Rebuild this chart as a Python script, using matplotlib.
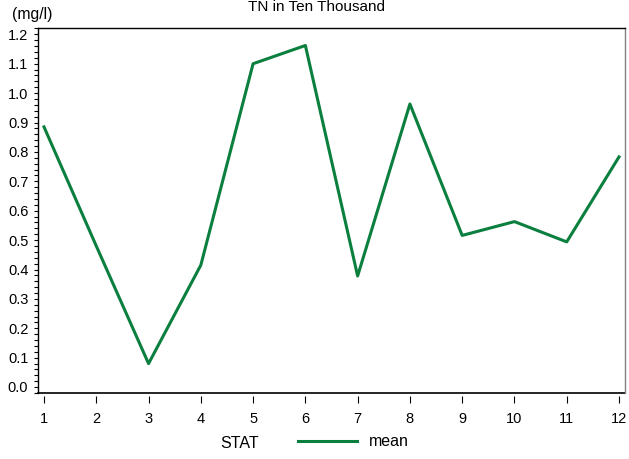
import matplotlib.pyplot as plt
import matplotlib.transforms as mtransforms
from matplotlib.lines import Line2D
from matplotlib.ticker import MultipleLocator

plt.rcParams['font.family'] = ['Liberation Sans', 'DejaVu Sans']

# Monthly mean TN (mg/l)
months = [1, 2, 3, 4, 5, 6, 7, 8, 9, 10, 11, 12]
tn_mean = [0.905, 0.50, 0.10, 0.435, 1.12, 1.182, 0.398, 0.983, 0.536, 0.583, 0.514, 0.803]
yticks = [0.0, 0.1, 0.2, 0.3, 0.4, 0.5, 0.6, 0.7, 0.8, 0.9, 1.0, 1.1, 1.2]

green = '#0a7f3e'

fig = plt.figure(figsize=(6.29, 4.59), dpi=100)
ax = fig.add_axes([38 / 629, 66 / 459, 587 / 629, 365 / 459])

ax.plot(months, tn_mean, color=green, linewidth=2.2, label='mean')

ax.set_xlim(0.885, 12.115)
ax.set_ylim(0, 1.2415)
ax.set_xticks(months)
ax.set_xticklabels([str(m) for m in months])
ax.set_yticks(yticks)
ax.set_yticklabels([f'{t:.1f}' for t in yticks])
ax.yaxis.set_minor_locator(MultipleLocator(0.02))

ax.tick_params(axis='both', labelsize=10.5, colors='black')
ax.tick_params(axis='y', which='both', direction='out', length=3, width=0.8, pad=4)
ax.tick_params(axis='x', direction='out', length=5, width=0.8, pad=6.5)

# y labels sit a bit above their ticks
off = mtransforms.ScaledTranslation(0, 6 / 100, fig.dpi_scale_trans)
for lab in ax.get_yticklabels():
    lab.set_transform(lab.get_transform() + off)

# x ticks hang slightly below the frame
ax.spines['bottom'].set_position(('outward', 2))
ax.spines['bottom'].set_visible(False)
ax.add_line(Line2D([0, 1], [0, 0], transform=ax.transAxes, color='black',
                   linewidth=1.2, clip_on=False))
ax.spines['top'].set_linewidth(1.0)
ax.spines['left'].set_linewidth(1.0)
ax.spines['right'].set_color('#808080')
ax.spines['right'].set_linewidth(1.0)

fig.text(317 / 629, 1 - 11 / 459, 'TN in Ten Thousand', ha='center', va='baseline', fontsize=11)
fig.text(12 / 629, 1 - 14 / 459, '(mg/l)', ha='left', va='center', fontsize=11.3)

fig.text(220 / 629, 1 - 443 / 459, 'STAT', ha='left', va='center', fontsize=11.5)
ax.legend(loc='center left', bbox_to_anchor=(298 / 629, 1 - 442 / 459),
          bbox_transform=fig.transFigure, frameon=False, fontsize=11.5,
          handlelength=3.7, handletextpad=0.75, borderpad=0, borderaxespad=0)

fig.savefig('out.png', dpi=100)
